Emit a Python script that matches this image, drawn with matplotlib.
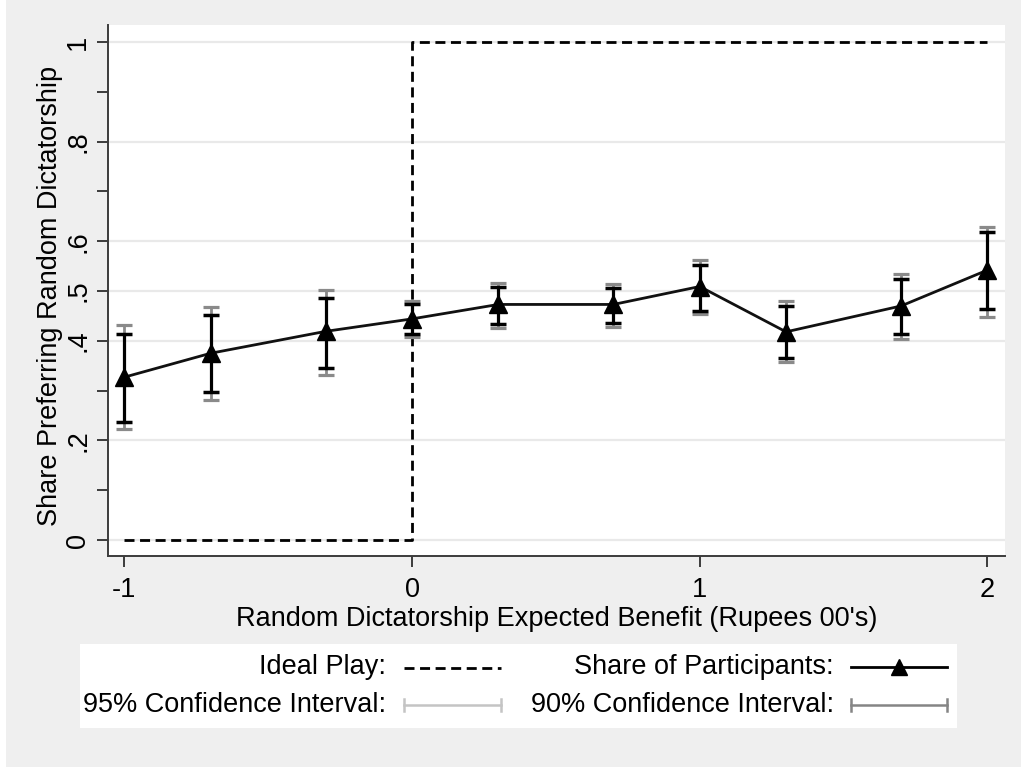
import matplotlib
matplotlib.use("Agg")
import matplotlib.pyplot as plt
from matplotlib.patches import Rectangle

# Expected benefit of random dictatorship (hundreds of rupees)
benefit = [-1.0, -0.7, -0.3, 0.0, 0.3, 0.7, 1.0, 1.3, 1.7, 2.0]
# Share of participants preferring random dictatorship
share = [0.327, 0.375, 0.419, 0.444, 0.473, 0.473, 0.509, 0.418, 0.470, 0.542]
# 90% confidence bounds
ci90_low = [0.238, 0.297, 0.345, 0.414, 0.434, 0.436, 0.460, 0.366, 0.413, 0.463]
ci90_high = [0.414, 0.451, 0.486, 0.474, 0.509, 0.506, 0.553, 0.470, 0.525, 0.619]
# 95% confidence bounds
ci95_low = [0.222, 0.281, 0.332, 0.408, 0.426, 0.428, 0.454, 0.357, 0.404, 0.448]
ci95_high = [0.431, 0.467, 0.502, 0.480, 0.517, 0.514, 0.562, 0.479, 0.534, 0.628]
# Ideal play: choose random dictatorship only when its benefit is positive
ideal_x = [-1.0, 0.0, 0.0, 2.0]
ideal_y = [0.0, 0.0, 1.0, 1.0]

y_ticks = [0, 0.2, 0.4, 0.5, 0.6, 0.8, 1.0]
y_ticklabels = ["0", ".2", ".4", ".5", ".6", ".8", "1"]
y_minor = [0.1, 0.3, 0.7, 0.9]
x_ticks = [-1, 0, 1, 2]
x_ticklabels = ["-1", "0", "1", "2"]

plt.rcParams["font.family"] = ["Liberation Sans", "DejaVu Sans"]
FS = 19.5
BG = "#efefef"
AXC = "#3c3c3c"
DASH = (0, (3.6, 2.0))

W, H = 1021, 767
fig = plt.figure(figsize=(W / 100, H / 100), dpi=100, facecolor="white")
fig.patches.append(Rectangle((6 / W, 0), 1 - 6 / W, 1, transform=fig.transFigure,
                             facecolor=BG, edgecolor="none", zorder=-10))


def px_axes(x0, y0, x1, y1):
    return fig.add_axes([x0 / W, 1 - y1 / H, (x1 - x0) / W, (y1 - y0) / H])


ax = px_axes(108, 25, 1005, 556)
ax.set_facecolor("white")
ax.set_xlim(-1.0567, 2.061)
ax.set_ylim(-0.032, 1.034)

# grid on labelled y values
for yv in y_ticks:
    ax.axhline(yv, color="#e9e9e9", lw=1.6, zorder=0)

# ideal play step
ax.plot(ideal_x, ideal_y, color="black", lw=2.0, linestyle=DASH, zorder=2)

# 95% then 90% intervals
ax.errorbar(benefit, share, yerr=[[s - l for s, l in zip(share, ci95_low)],
                                  [h - s for s, h in zip(share, ci95_high)]],
            fmt="none", ecolor="#8a8a8a", elinewidth=2.0, capsize=5.5, capthick=2.3, zorder=3)
ax.errorbar(benefit, share, yerr=[[s - l for s, l in zip(share, ci90_low)],
                                  [h - s for s, h in zip(share, ci90_high)]],
            fmt="none", ecolor="black", elinewidth=2.3, capsize=5.5, capthick=2.5, zorder=4)
ax.plot(benefit, share, color="#111111", lw=2.0, marker="^", markersize=13,
        markerfacecolor="black", markeredgecolor="black", zorder=5)

for side in ["top", "right"]:
    ax.spines[side].set_visible(False)
for side in ["left", "bottom"]:
    ax.spines[side].set_color(AXC)
    ax.spines[side].set_linewidth(1.4)

ax.set_yticks(y_ticks)
ax.set_yticklabels(y_ticklabels, rotation=90, va="center", fontsize=FS)
ax.set_yticks(y_minor, minor=True)
ax.set_xticks(x_ticks)
ax.set_xticklabels(x_ticklabels, fontsize=FS)
ax.tick_params(axis="both", which="both", direction="out", length=8, width=1.4, color=AXC)
ax.tick_params(axis="y", which="major", pad=4)
ax.tick_params(axis="x", which="major", pad=7)

ax.set_xlabel("Random Dictatorship Expected Benefit (Rupees 00's)", fontsize=FS, labelpad=2)
ax.set_ylabel("Share Preferring Random Dictatorship", fontsize=FS)
ax.yaxis.set_label_coords((63 - 108) / 897, 0.49)

# legend panel drawn in pixel coordinates
lg = px_axes(80, 644, 957, 728)
lg.set_xlim(80, 957)
lg.set_ylim(728, 644)
lg.set_facecolor("white")
lg.set_xticks([])
lg.set_yticks([])
for s in lg.spines.values():
    s.set_visible(False)

r1, r2 = 667, 705
lg.text(386, r1, "Ideal Play:", ha="right", va="center", fontsize=FS)
lg.text(386, r2, "95% Confidence Interval:", ha="right", va="center", fontsize=FS)
lg.text(834, r1, "Share of Participants:", ha="right", va="center", fontsize=FS)
lg.text(834, r2, "90% Confidence Interval:", ha="right", va="center", fontsize=FS)

lg.plot([404, 501], [r1 + 1, r1 + 1], color="black", lw=2.0, linestyle=DASH)
lg.plot([851, 947], [r1, r1], color="black", lw=2.0)
lg.plot([899], [r1], marker="^", markersize=12, color="black")

lg.plot([404, 501], [r2, r2], color="#c4c4c4", lw=1.8)
lg.plot([404, 404], [r2 - 6, r2 + 6], color="#c4c4c4", lw=1.8)
lg.plot([501, 501], [r2 - 6, r2 + 6], color="#c4c4c4", lw=1.8)
lg.plot([851, 947], [r2, r2], color="#858585", lw=1.8)
lg.plot([851, 851], [r2 - 6, r2 + 6], color="#858585", lw=1.8)
lg.plot([947, 947], [r2 - 6, r2 + 6], color="#858585", lw=1.8)

fig.savefig("out.png", dpi=100, facecolor=fig.get_facecolor())
